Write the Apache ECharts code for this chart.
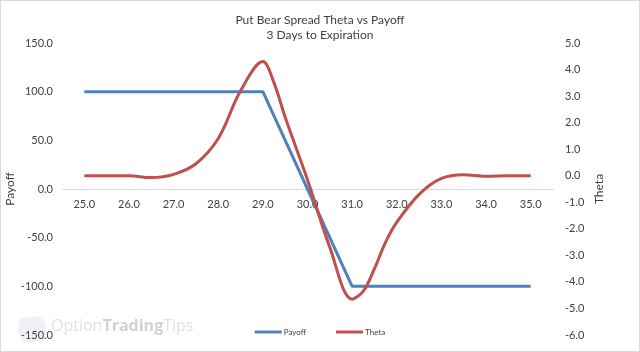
<!DOCTYPE html>
<html>
<head>
<meta charset="utf-8">
<title>Put Bear Spread Theta vs Payoff</title>
<script src="https://cdn.jsdelivr.net/npm/echarts@6/dist/echarts.min.js"></script>
<style>
  html, body { margin: 0; padding: 0; background: #fff; }
  #chart {
    width: 640px;
    height: 352px;
    box-sizing: border-box;
    border: 1px solid #d9d9d9;
  }
</style>
</head>
<body>
<div id="chart"></div>
<script>
// 标的价格（x 轴）
const payoffPrices = [25, 26, 27, 28, 29, 30, 31, 32, 33, 34, 35]
const payoffValues = [100, 100, 100, 100, 100, 0, -100, -100, -100, -100, -100]

// Theta 曲线，从图上读出的点
const thetaPrices = [25, 25.5, 26, 26.5, 27, 27.5, 28, 28.5, 29, 29.25, 29.5, 30, 30.5, 31, 31.25, 31.5, 31.75, 32, 32.5, 33, 33.5, 34, 34.5, 35]
const thetaValues = [0, 0, 0, -0.07, 0.05, 0.45, 1.4, 3.2, 4.3, 3.5, 2.2, -0.15, -2.7, -4.65, -4.35, -3.5, -2.5, -1.75, -0.7, -0.1, 0.04, -0.02, 0, 0]

// 刻度
const xTicks = [25, 26, 27, 28, 29, 30, 31, 32, 33, 34, 35]

const FONT = 'Lato'
const TEXT = '#404040'

const toPairs = (xs, ys) => xs.map((x, i) => [x, ys[i]])

const myChart = echarts.init(document.getElementById('chart'))
myChart.setOption({
  animation: false,
  /* 标题 */
  title: {
    text: 'Put Bear Spread Theta vs Payoff',
    subtext: '3 Days to Expiration',
    left: 'center',
    top: 8,
    itemGap: 3,
    textStyle: { fontFamily: FONT, fontSize: 12, fontWeight: 'normal', color: TEXT },
    subtextStyle: { fontFamily: FONT, fontSize: 12, color: TEXT }
  },
  /* 图例 */
  legend: {
    bottom: 10,
    left: 'center',
    icon: 'rect',
    itemWidth: 27,
    itemHeight: 3,
    itemGap: 30,
    textStyle: { fontFamily: FONT, fontSize: 8, color: TEXT, padding: [0, 0, 0, -3] },
    data: ['Payoff', 'Theta']
  },
  grid: { left: 61, right: 86, top: 42, bottom: 16, outerBoundsMode: 'none' },
  /* x 轴放在左轴 0 的位置：网格高 292，向上偏移一半 */
  xAxis: {
    type: 'value',
    min: 24.5,
    max: 35.5,
    position: 'bottom',
    offset: -146,
    axisLine: { onZero: false, lineStyle: { color: '#d9d9d9', width: 1 } },
    axisTick: { show: false },
    splitLine: { show: false },
    axisLabel: {
      customValues: xTicks,
      margin: 10,
      fontFamily: FONT,
      fontSize: 11,
      color: TEXT,
      formatter: v => v.toFixed(1)
    }
  },
  yAxis: [
    {
      type: 'value',
      name: 'Payoff',
      nameLocation: 'middle',
      nameGap: 46,
      nameMoveOverlap: false,
      nameTextStyle: { fontFamily: FONT, fontSize: 12, color: TEXT },
      min: -150,
      max: 150,
      interval: 50,
      axisLine: { show: false },
      axisTick: { show: false },
      splitLine: { show: false },
      axisLabel: { margin: 9, fontFamily: FONT, fontSize: 11, color: TEXT, formatter: v => v.toFixed(1) }
    },
    {
      type: 'value',
      name: 'Theta',
      nameLocation: 'middle',
      nameGap: 40,
      nameMoveOverlap: false,
      nameTextStyle: { fontFamily: FONT, fontSize: 12, color: TEXT },
      min: -6,
      max: 5,
      interval: 1,
      axisLine: { show: false },
      axisTick: { show: false },
      splitLine: { show: false },
      axisLabel: { margin: 12, fontFamily: FONT, fontSize: 11, color: TEXT, formatter: v => v.toFixed(1) }
    }
  ],
  series: [
    {
      name: 'Payoff',
      type: 'line',
      yAxisIndex: 0,
      symbol: 'none',
      color: '#4f81bd',
      lineStyle: { width: 3 },
      data: toPairs(payoffPrices, payoffValues)
    },
    {
      name: 'Theta',
      type: 'line',
      yAxisIndex: 1,
      symbol: 'none',
      smooth: 0.35,
      color: '#c0504d',
      lineStyle: { width: 3 },
      data: toPairs(thetaPrices, thetaValues)
    }
  ],
  /* 水印 */
  graphic: [
    {
      type: 'polygon',
      z: -1,
      shape: { points: [[19, 318], [38, 315], [45, 322], [43, 340], [22, 342], [17, 330]] },
      style: { fill: '#eef0f4' }
    },
    {
      type: 'text',
      z: -1,
      left: 50,
      top: 317,
      style: {
        text: '{a|Option}{b|Trading}{a|Tips}',
        rich: {
          a: { fontFamily: 'Open Sans', fontSize: 16, fill: '#e2e2e2' },
          b: { fontFamily: 'Open Sans', fontSize: 16, fontWeight: 'bold', fill: '#d2d2d2' }
        }
      }
    }
  ]
})
</script>
</body>
</html>
